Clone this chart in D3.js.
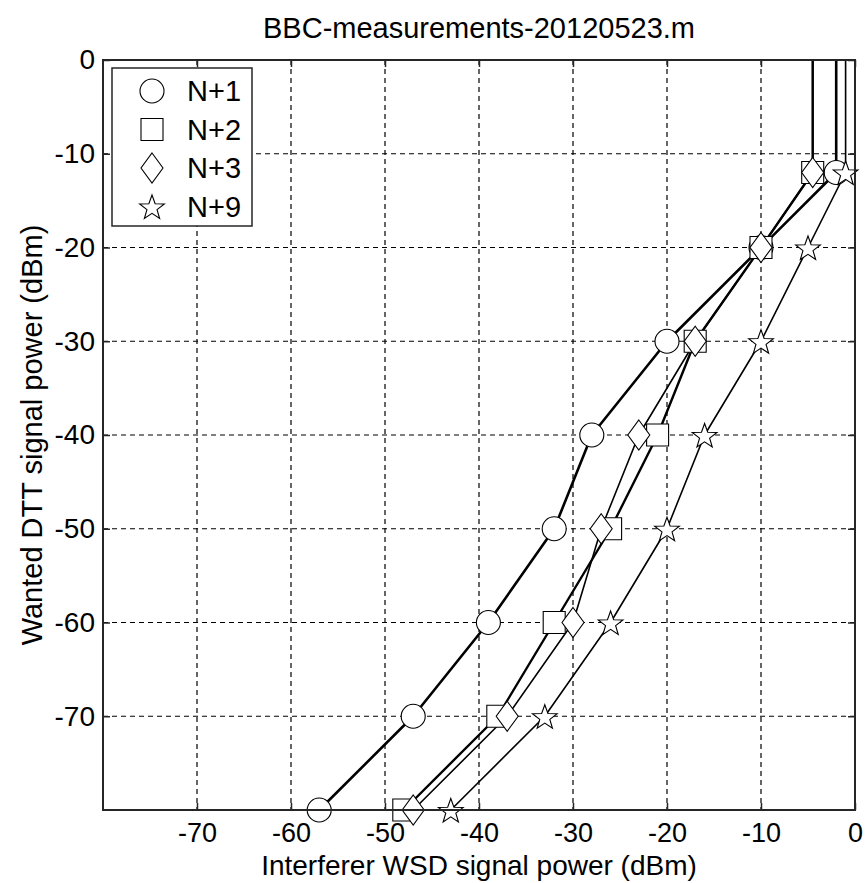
<!DOCTYPE html>
<html>
<head>
<meta charset="utf-8">
<script src="https://cdn.jsdelivr.net/npm/d3@7"></script>
<style>
  body { margin: 0; background: #fff; }
  text { font-family: "Liberation Sans", Arial, sans-serif; fill: #000; }
  .grid line { stroke: #000; stroke-width: 1.2; stroke-dasharray: 5,4; }
</style>
</head>
<body>
<div id="chart"></div>
<script>
// wanted DTT signal levels (dBm), last entry is where the trace leaves the axes
var wantedLevels = [-80, -70, -60, -50, -40, -30, -20, -12, 0];

// interferer power at failure for each channel offset
var seriesNames = ["N+1", "N+2", "N+3", "N+9"];
var n1 = [-57, -47, -39, -32, -28, -20, -10, -2, -2];
var n2 = [-48, -38, -32, -26, -21, -17, -10, -4.5, -4.5];
var n3 = [-47, -37, -30, -27, -23, -17, -10, -4.5, -4.5];
var n9 = [-43, -33, -26, -20, -16, -10, -5, -1, -1];
var seriesValues = [n1, n2, n3, n9];

var xTicks = [-70, -60, -50, -40, -30, -20, -10, 0];
var yTicks = [0, -10, -20, -30, -40, -50, -60, -70];
var symbols = ["circle", "square", "diamond", "star"];
var lineW = [2.6, 2.4, 1.6, 1.6];

var width = 867, height = 883;
var margin = {left: 103, right: 12, top: 60, bottom: 73};
var fmt = function(d) { return String(d); };

var svg = d3.select("#chart").append("svg")
    .attr("width", width)
    .attr("height", height);

var x = d3.scaleLinear().domain([-80, 0]).range([margin.left, width - margin.right]);
var y = d3.scaleLinear().domain([-80, 0]).range([height - margin.bottom, margin.top]);

// grid
var grid = svg.append("g").attr("class", "grid");
grid.selectAll("line.gx").data(xTicks.filter(function(d) { return d > -80 && d < 0; }))
    .enter().append("line")
    .attr("x1", function(d) { return x(d); }).attr("x2", function(d) { return x(d); })
    .attr("y1", y(0)).attr("y2", y(-80));
grid.selectAll("line.gy").data(yTicks.filter(function(d) { return d > -80 && d < 0; }))
    .enter().append("line")
    .attr("y1", function(d) { return y(d); }).attr("y2", function(d) { return y(d); })
    .attr("x1", x(-80)).attr("x2", x(0));

// axes with inward ticks
var axB = svg.append("g").attr("transform", "translate(0," + y(-80) + ")")
    .call(d3.axisBottom(x).tickValues(xTicks).tickSizeInner(-7).tickSizeOuter(0).tickPadding(13).tickFormat(fmt));
var axT = svg.append("g").attr("transform", "translate(0," + y(0) + ")")
    .call(d3.axisTop(x).tickValues(xTicks).tickSizeInner(-7).tickSizeOuter(0).tickFormat(""));
var axL = svg.append("g").attr("transform", "translate(" + x(-80) + ",0)")
    .call(d3.axisLeft(y).tickValues(yTicks).tickSizeInner(-7).tickSizeOuter(0).tickPadding(8).tickFormat(fmt));
var axR = svg.append("g").attr("transform", "translate(" + x(0) + ",0)")
    .call(d3.axisRight(y).tickValues(yTicks).tickSizeInner(-7).tickSizeOuter(0).tickFormat(""));
[axB, axT, axL, axR].forEach(function(a) {
    a.selectAll(".domain").remove();
    a.selectAll(".tick line").attr("stroke", "#262626").attr("stroke-width", 1.5);
    a.selectAll("text").attr("font-size", 28).attr("font-family", "Liberation Sans, Arial, sans-serif").attr("fill", "#000");
});
axB.selectAll("text").attr("font-size", 27).attr("dy", "0.71em");

// series lines
var line = d3.line()
    .x(function(d) { return x(d[0]); })
    .y(function(d) { return y(d[1]); });

function symbolPath(kind, cx, cy) {
    var p = d3.path();
    if (kind === "circle") {
        p.moveTo(cx + 12, cy); p.arc(cx, cy, 12, 0, 2 * Math.PI);
    } else if (kind === "square") {
        p.rect(cx - 11, cy - 11, 22, 22);
    } else if (kind === "diamond") {
        p.moveTo(cx, cy - 15); p.lineTo(cx + 11, cy); p.lineTo(cx, cy + 15); p.lineTo(cx - 11, cy); p.closePath();
    } else {
        var R = 13, r = 5.3;
        for (var i = 0; i < 10; i++) {
            var a = -Math.PI / 2 + i * Math.PI / 5;
            var rr = i % 2 === 0 ? R : r;
            var px = cx + rr * Math.cos(a), py = cy + 1.5 + rr * Math.sin(a);
            if (i === 0) p.moveTo(px, py); else p.lineTo(px, py);
        }
        p.closePath();
    }
    return p.toString();
}

seriesValues.forEach(function(vals, s) {
    var pts = vals.map(function(v, i) { return [v, wantedLevels[i]]; });
    svg.append("path")
        .attr("d", line(pts))
        .attr("fill", "none")
        .attr("stroke", "#000")
        .attr("stroke-width", lineW[s])
        .attr("stroke-linejoin", "round");
});

seriesValues.forEach(function(vals, s) {
    var pts = vals.map(function(v, i) { return [v, wantedLevels[i]]; }).filter(function(d) { return d[1] < 0; });
    svg.append("g").selectAll("path").data(pts).enter().append("path")
        .attr("d", function(d) { return symbolPath(symbols[s], x(d[0]), y(d[1])); })
        .attr("fill", "#fff")
        .attr("stroke", "#000")
        .attr("stroke-width", 1.1);
});

// frame
svg.append("rect")
    .attr("x", x(-80)).attr("y", y(0))
    .attr("width", x(0) - x(-80)).attr("height", y(-80) - y(0))
    .attr("fill", "none").attr("stroke", "#262626").attr("stroke-width", 2);

// legend
var lg = svg.append("g");
lg.append("rect")
    .attr("x", 112).attr("y", 68).attr("width", 140).attr("height", 158)
    .attr("fill", "#fff").attr("stroke", "#262626").attr("stroke-width", 1.5);
seriesNames.forEach(function(name, i) {
    var cy = 91 + i * 38.5;
    lg.append("path").attr("d", symbolPath(symbols[i], 152, cy))
        .attr("fill", "#fff").attr("stroke", "#000").attr("stroke-width", 1.1);
    lg.append("text").attr("x", 187).attr("y", cy).attr("dy", "0.36em")
        .attr("font-size", 29).text(name);
});

// titles
svg.append("text").attr("x", (x(-80) + x(0)) / 2).attr("y", 38)
    .attr("text-anchor", "middle").attr("font-size", 29).text("BBC-measurements-20120523.m");
svg.append("text").attr("x", (x(-80) + x(0)) / 2).attr("y", 875)
    .attr("text-anchor", "middle").attr("font-size", 28).text("Interferer WSD signal power (dBm)");
svg.append("text")
    .attr("transform", "translate(42," + ((y(0) + y(-80)) / 2) + ") rotate(-90)")
    .attr("text-anchor", "middle").attr("font-size", 29).text("Wanted DTT signal power (dBm)");
</script>
</body>
</html>
